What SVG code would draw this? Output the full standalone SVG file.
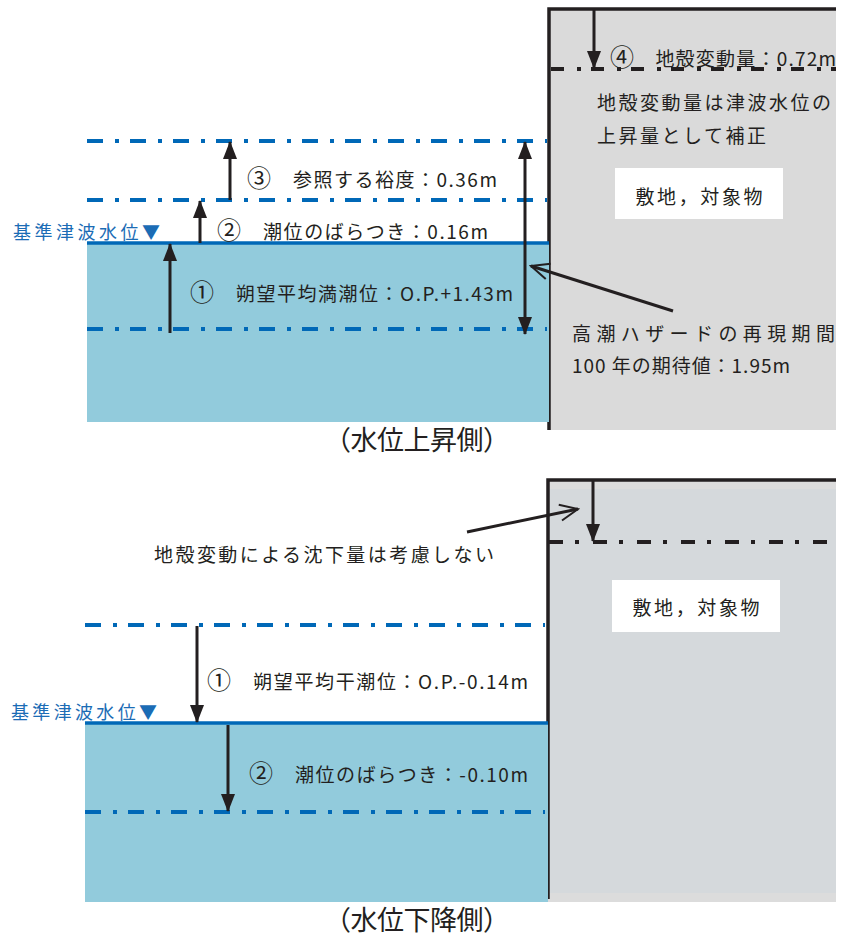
<svg xmlns="http://www.w3.org/2000/svg" width="842" height="940" viewBox="0 0 842 940">
<defs>
<style>
.t{font-family:"Noto Sans CJK JP","Noto Sans",sans-serif;font-size:19px;fill:#231f20}
.c{font-size:24px}
.b{font-family:"Noto Sans CJK JP","Noto Sans",sans-serif;font-size:18px;fill:#1b6cb5}
.ttl{font-family:"Liberation Serif","Noto Sans CJK JP",serif;font-size:27px;fill:#231f20}
.bd{stroke:#0068b7;stroke-width:4;fill:none;stroke-dasharray:16 12 4 11}
.kd{stroke:#231f20;stroke-width:4;fill:none}
.ar{stroke:#231f20;stroke-width:3;fill:none}
.wall{stroke:#231f20;stroke-width:3.5;fill:none}
.water{fill:#92cbdc}
.box{fill:#ffffff}
</style>
<marker id="ah" viewBox="0 0 18 14" refX="17" refY="7" markerWidth="18" markerHeight="14" markerUnits="userSpaceOnUse" orient="auto">
<path d="M0,0 L18,7 L0,14 Z" fill="#231f20"/>
</marker>
<marker id="ahs" viewBox="0 0 18 14" refX="17" refY="7" markerWidth="18" markerHeight="14" markerUnits="userSpaceOnUse" orient="auto-start-reverse">
<path d="M0,0 L18,7 L0,14 Z" fill="#231f20"/>
</marker>
<marker id="oh" viewBox="-20 -10 22 20" refX="0" refY="0" markerWidth="22" markerHeight="20" markerUnits="userSpaceOnUse" orient="auto">
<path d="M-18,-8 L0,0 L-18,8" fill="none" stroke="#231f20" stroke-width="2"/>
</marker>
</defs>
<rect width="842" height="940" fill="#ffffff"/>

<!-- Top panel -->
<g id="land-top">
<rect x="549" y="9" width="287" height="421" fill="#dadada"/>
<path class="wall" d="M549,430 V9 H836"/>
<line class="kd" x1="551" y1="69" x2="836" y2="69" stroke-dasharray="13 13 4 10"/>
</g>
<g id="water-top">
<rect class="water" x="87" y="243" width="462" height="179"/>
<line x1="87" y1="243" x2="549" y2="243" stroke="#0068b7" stroke-width="3.5"/>
<line class="bd" x1="87" y1="141" x2="547" y2="141"/>
<line class="bd" x1="87" y1="200" x2="547" y2="200"/>
<line class="bd" x1="87" y1="329" x2="547" y2="329"/>
</g>
<g id="box-top">
<rect class="box" x="615" y="168" width="168" height="51"/>
<text class="t" x="699" y="204" text-anchor="middle" textLength="127">敷地，対象物</text>
</g>
<g id="label-4">
<text class="t" x="610" y="66" textLength="226"><tspan class="c">④</tspan>　地殻変動量：0.72m</text>
</g>
<g id="note-top">
<text class="t" x="597" y="110" textLength="234">地殻変動量は津波水位の</text>
<text class="t" x="597" y="143" textLength="169">上昇量として補正</text>
</g>
<g id="label-3"><text class="t" x="247" y="187" textLength="250"><tspan class="c">③</tspan>　参照する裕度：0.36m</text></g>
<g id="label-2"><text class="t" x="217" y="239" textLength="271"><tspan class="c">②</tspan>　潮位のばらつき：0.16m</text></g>
<g id="label-1"><text class="t" x="190" y="301" textLength="323"><tspan class="c">①</tspan>　朔望平均満潮位：O.P.+1.43m</text></g>
<g id="ref-top"><text class="b" x="13" y="239" textLength="147">基準津波水位▼</text></g>
<g id="hazard">
<text class="t" x="572" y="341" textLength="263">高潮ハザードの再現期間</text>
<text class="t" x="572" y="373" textLength="218">100 年の期待値：1.95m</text>
</g>
<g id="title-top"><text class="ttl" x="417" y="450" text-anchor="middle" textLength="186">（水位上昇側）</text></g>

<!-- Bottom panel -->
<g id="land-bottom">
<rect x="548" y="480" width="288" height="422" fill="#dcdcdc"/>
<rect x="548" y="489" width="288" height="404" fill="#d5d9dc"/>
<path class="wall" d="M548,899 V480 H836"/>
<line class="kd" x1="549" y1="542" x2="836" y2="542" stroke-dasharray="14 12 4 14"/>
</g>
<g id="water-bottom">
<rect class="water" x="85" y="723" width="463" height="179"/>
<line x1="85" y1="723" x2="548" y2="723" stroke="#0068b7" stroke-width="3.5"/>
<line class="bd" x1="85" y1="625" x2="545" y2="625"/>
<line class="bd" x1="85" y1="812" x2="545" y2="812"/>
</g>
<g id="box-bottom">
<rect class="box" x="612" y="580" width="168" height="52"/>
<text class="t" x="696" y="615" text-anchor="middle" textLength="127">敷地，対象物</text>
</g>
<g id="note-bottom"><text class="t" x="154" y="562" textLength="340">地殻変動による沈下量は考慮しない</text></g>
<g id="label-b1"><text class="t" x="207" y="689" textLength="321"><tspan class="c">①</tspan>　朔望平均干潮位：O.P.-0.14m</text></g>
<g id="ref-bottom"><text class="b" x="11" y="719" textLength="146">基準津波水位▼</text></g>
<g id="label-b2"><text class="t" x="249" y="782" textLength="279"><tspan class="c">②</tspan>　潮位のばらつき：-0.10m</text></g>
<g id="title-bottom"><text class="ttl" x="417" y="930" text-anchor="middle" textLength="186">（水位下降側）</text></g>

<g id="connectors">
<line class="ar" x1="594" y1="10" x2="594" y2="68" marker-end="url(#ah)"/>
<line class="ar" x1="230" y1="200" x2="230" y2="142" marker-end="url(#ah)"/>
<line class="ar" x1="200" y1="243" x2="200" y2="201" marker-end="url(#ah)"/>
<line class="ar" x1="170" y1="333" x2="170" y2="244" marker-end="url(#ah)"/>
<line class="ar" x1="525" y1="142" x2="525" y2="334" marker-start="url(#ahs)" marker-end="url(#ah)"/>
<line class="ar" x1="673" y1="311" x2="531" y2="266" stroke-width="2" marker-end="url(#oh)"/>
<line class="ar" x1="593" y1="481" x2="593" y2="541" marker-end="url(#ah)"/>
<line class="ar" x1="467" y1="532" x2="578" y2="509" stroke-width="2" marker-end="url(#oh)"/>
<line class="ar" x1="197" y1="626" x2="197" y2="722" marker-end="url(#ah)"/>
<line class="ar" x1="228" y1="725" x2="228" y2="811" marker-end="url(#ah)"/>
</g>
</svg>
